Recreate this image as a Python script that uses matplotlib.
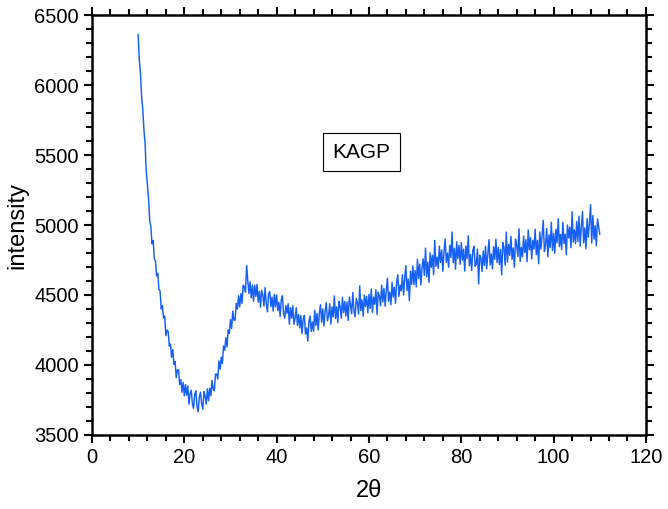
import matplotlib
matplotlib.use("Agg")
import matplotlib.pyplot as plt
import numpy as np
from matplotlib.ticker import MultipleLocator

plt.rcParams['font.family'] = ['Liberation Sans', 'DejaVu Sans']

# scan: 2theta from 10 to 110 in 0.25 steps, intensities
two_theta_start = 10.0
two_theta_step = 0.25
intensity = [
    6360, 6180, 6085, 5915, 5830, 5680, 5585, 5390, 5285, 5190, 5035, 4990, 4865, 4890, 4760, 4745, 4635, 4655, 4540, 4530,
    4400, 4425, 4335, 4350, 4210, 4250, 4240, 4135, 4150, 4055, 4110, 4005, 4025, 3910, 3965, 3965, 3860, 3895, 3805, 3875,
    3780, 3860, 3785, 3850, 3720, 3795, 3820, 3725, 3690, 3790, 3815, 3705, 3665, 3770, 3805, 3725, 3685, 3810, 3780, 3720,
    3830, 3745, 3835, 3780, 3890, 3830, 3815, 3935, 3935, 3900, 4030, 3970, 4055, 4010, 4135, 4105, 4195, 4130, 4250, 4225,
    4325, 4260, 4385, 4320, 4320, 4440, 4400, 4495, 4415, 4510, 4440, 4570, 4560, 4520, 4710, 4600, 4510, 4595, 4480, 4570,
    4455, 4570, 4490, 4575, 4450, 4526, 4413, 4534, 4500, 4421, 4553, 4439, 4380, 4507, 4524, 4417, 4485, 4385, 4505, 4415,
    4500, 4389, 4448, 4346, 4465, 4495, 4365, 4335, 4425, 4369, 4438, 4291, 4410, 4334, 4423, 4291, 4335, 4409, 4283, 4361,
    4265, 4354, 4223, 4326, 4355, 4220, 4265, 4170, 4310, 4350, 4240, 4307, 4240, 4391, 4282, 4368, 4250, 4370, 4430, 4305,
    4400, 4279, 4383, 4446, 4315, 4349, 4438, 4291, 4415, 4344, 4493, 4331, 4415, 4303, 4455, 4418, 4335, 4483, 4375, 4453,
    4350, 4451, 4318, 4484, 4430, 4366, 4518, 4384, 4345, 4476, 4443, 4364, 4565, 4388, 4465, 4348, 4500, 4418, 4490, 4373,
    4505, 4404, 4543, 4376, 4485, 4434, 4538, 4361, 4520, 4494, 4423, 4571, 4450, 4548, 4420, 4528, 4620, 4455, 4520, 4430,
    4590, 4485, 4555, 4440, 4595, 4645, 4490, 4570, 4530, 4645, 4500, 4620, 4710, 4531, 4613, 4459, 4670, 4576, 4708, 4574,
    4675, 4558, 4755, 4618, 4720, 4573, 4695, 4758, 4640, 4835, 4630, 4735, 4590, 4801, 4698, 4784, 4645, 4890, 4705, 4770,
    4690, 4849, 4733, 4821, 4670, 4808, 4900, 4733, 4800, 4698, 4855, 4768, 4950, 4731, 4833, 4684, 4880, 4760, 4855, 4720,
    4875, 4749, 4828, 4671, 4850, 4761, 4923, 4709, 4790, 4676, 4818, 4849, 4705, 4721, 4828, 4579, 4785, 4766, 4668, 4814,
    4710, 4849, 4688, 4791, 4895, 4714, 4793, 4686, 4845, 4754, 4898, 4731, 4840, 4718, 4825, 4643, 4875, 4841, 4713, 4949,
    4735, 4861, 4783, 4919, 4755, 4836, 4698, 4899, 4855, 4776, 4973, 4739, 4840, 4773, 4920, 4803, 4895, 4738, 4965, 4823,
    4910, 4758, 4890, 4828, 4970, 4788, 4890, 4723, 4950, 4828, 4925, 5033, 4810, 4858, 4975, 4773, 4930, 4838, 5020, 4818,
    4940, 4798, 4970, 4873, 5045, 4846, 4933, 4824, 5020, 4868, 4935, 4788, 5000, 4908, 4985, 4838, 5095, 4878, 4965, 4868,
    5025, 4881, 5063, 4849, 4985, 5096, 4873, 4979, 4830, 5046, 4913, 5014, 5145, 4871, 5068, 4899, 4995, 4851, 5043, 4989,
    4935,
]
sample_name = "KAGP"

two_theta = two_theta_start + two_theta_step * np.arange(len(intensity))

fig = plt.figure(figsize=(6.68, 5.09), dpi=100)
ax = fig.add_axes([0.1377, 0.1454, 0.8293, 0.8251])

ax.plot(two_theta, intensity, color='#165ff7', lw=1.05)

ax.set_xlim(0, 120)
ax.set_ylim(3500, 6500)
ax.xaxis.set_major_locator(MultipleLocator(20))
ax.xaxis.set_minor_locator(MultipleLocator(4))
ax.yaxis.set_major_locator(MultipleLocator(500))
ax.yaxis.set_minor_locator(MultipleLocator(100))

ax.tick_params(which='both', direction='out', top=True, right=True, width=1.5, labelsize=14.5, colors='black')
ax.tick_params(which='major', length=6)
ax.tick_params(which='minor', length=4)
for s in ax.spines.values():
    s.set_linewidth(1.8)

ax.set_xlabel("2θ", fontsize=17, labelpad=9)
ax.set_ylabel("intensity", fontsize=17, labelpad=4)

ax.text(58.4, 5521, sample_name, fontsize=15, ha='center', va='center',
        bbox=dict(boxstyle='square,pad=0.45', facecolor='white', edgecolor='black', lw=0.8))

fig.savefig("out.png", dpi=100)
